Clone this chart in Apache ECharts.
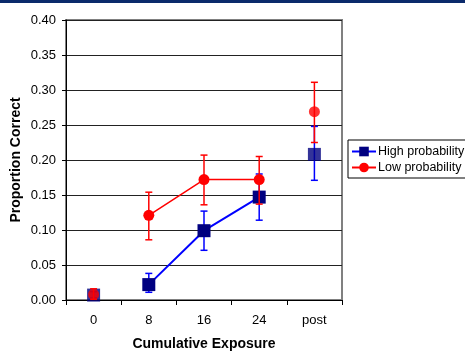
<!DOCTYPE html>
<html>
<head>
<meta charset="utf-8">
<script src="https://cdn.jsdelivr.net/npm/echarts@6/dist/echarts.min.js"></script>
<style>
html,body{margin:0;padding:0;background:#fff;}
#c{width:465px;height:352px;}
</style>
</head>
<body>
<div id="c"></div>
<script>
var categories = ['0', '8', '16', '24', 'post'];
var yTicks = [0, 0.05, 0.10, 0.15, 0.20, 0.25, 0.30, 0.35, 0.40];

var highMean = [0.007, 0.022, 0.099, 0.147, 0.208];
var highLow  = [0.003, 0.011, 0.071, 0.114, 0.171];
var highHigh = [0.012, 0.038, 0.127, 0.180, 0.248];

var lowMean = [0.008, 0.121, 0.172, 0.172, 0.269];
var lowLow  = [0.001, 0.086, 0.136, 0.137, 0.225];
var lowHigh = [0.016, 0.154, 0.207, 0.205, 0.311];

var connected = [false, true, true, true, false];

var FONT = 'Liberation Sans, Arial, sans-serif';

function lineData(arr) { return arr.map(function (v, i) { return connected[i] ? v : null; }); }
function dotData(arr) { return arr.map(function (v, i) { return connected[i] ? null : v; }); }
function errData(lo, hi) { return categories.map(function (c, i) { return [i, lo[i], hi[i]]; }); }

function errRender(color) {
  return function (params, api) {
    var x = api.value(0);
    var p1 = api.coord([x, api.value(1)]);
    var p2 = api.coord([x, api.value(2)]);
    var hw = 3.5;
    var st = { stroke: color, lineWidth: 1.5 };
    return {
      type: 'group',
      children: [
        { type: 'line', shape: { x1: p1[0], y1: p1[1], x2: p2[0], y2: p2[1] }, style: st },
        { type: 'line', shape: { x1: p1[0] - hw, y1: p1[1], x2: p1[0] + hw, y2: p1[1] }, style: st },
        { type: 'line', shape: { x1: p2[0] - hw, y1: p2[1], x2: p2[0] + hw, y2: p2[1] }, style: st }
      ]
    };
  };
}

var chart = echarts.init(document.getElementById('c'), null, { renderer: 'canvas' });
chart.setOption({
  animation: false,
  backgroundColor: '#ffffff',
  graphic: [
    { type: 'rect', left: 0, top: 0, shape: { width: 465, height: 3 }, style: { fill: '#0b2a6b' }, z: 100 }
  ],
  grid: { left: 66, right: 123, top: 20, bottom: 52, containLabel: false, outerBoundsMode: 'none',
    show: true, borderColor: '#808080', borderWidth: 2, backgroundColor: 'transparent' },
  legend: {
    data: ['High probability', 'Low probability'],
    orient: 'vertical',
    left: 348, top: 140,
    padding: [5, 6, 4, 3],
    itemGap: 3,
    itemWidth: 24, itemHeight: 12,
    borderColor: '#000', borderWidth: 1,
    textStyle: { fontFamily: FONT, fontSize: 12.5, color: '#000', padding: [0, 0, 0, -3] }
  },
  xAxis: {
    type: 'category',
    data: categories,
    boundaryGap: true,
    axisLine: { lineStyle: { color: '#000', width: 1 } },
    axisTick: { show: true, alignWithLabel: false, length: 5, lineStyle: { color: '#000' } },
    axisLabel: { fontFamily: FONT, fontSize: 13, color: '#000', margin: 14 },
    name: 'Cumulative Exposure',
    nameLocation: 'middle',
    nameGap: 37,
    nameMoveOverlap: false,
    nameTextStyle: { fontFamily: FONT, fontSize: 14, fontWeight: 'bold', color: '#000' }
  },
  yAxis: {
    type: 'value',
    min: 0, max: 0.4, interval: 0.05,
    axisLine: { show: true, lineStyle: { color: '#000', width: 1 } },
    axisTick: { show: true, length: 4, lineStyle: { color: '#000' } },
    axisLabel: { fontFamily: FONT, fontSize: 13, color: '#000', margin: 10,
      formatter: function (v) { return v.toFixed(2); } },
    splitLine: { show: true, lineStyle: { color: '#222', width: 1 } },
    name: 'Proportion Correct',
    nameLocation: 'middle',
    nameGap: 43,
    nameMoveOverlap: false,
    nameTextStyle: { fontFamily: FONT, fontSize: 14, fontWeight: 'bold', color: '#000' }
  },
  series: [
    { type: 'custom', name: 'hiErr', renderItem: errRender('#0000ff'), data: errData(highLow, highHigh), z: 2, silent: true },
    { type: 'line', name: 'High probability', data: lineData(highMean), z: 3,
      symbol: 'rect', symbolSize: 13, showSymbol: true,
      itemStyle: { color: '#000080' }, lineStyle: { color: '#0000ff', width: 2 } },
    { type: 'scatter', name: 'hiDots', data: dotData(highMean), z: 3,
      symbol: 'rect', symbolSize: 13, itemStyle: { color: '#000080' } },
    { type: 'custom', name: 'loErr', renderItem: errRender('#ff0000'), data: errData(lowLow, lowHigh), z: 4, silent: true },
    { type: 'line', name: 'Low probability', data: lineData(lowMean), z: 5,
      symbol: 'circle', symbolSize: 11, showSymbol: true,
      itemStyle: { color: '#ff0000' }, lineStyle: { color: '#ff0000', width: 1.5 } },
    { type: 'scatter', name: 'loDots', data: dotData(lowMean), z: 5,
      symbol: 'circle', symbolSize: 11, itemStyle: { color: '#ff0000' } }
  ]
});
</script>
</body>
</html>
